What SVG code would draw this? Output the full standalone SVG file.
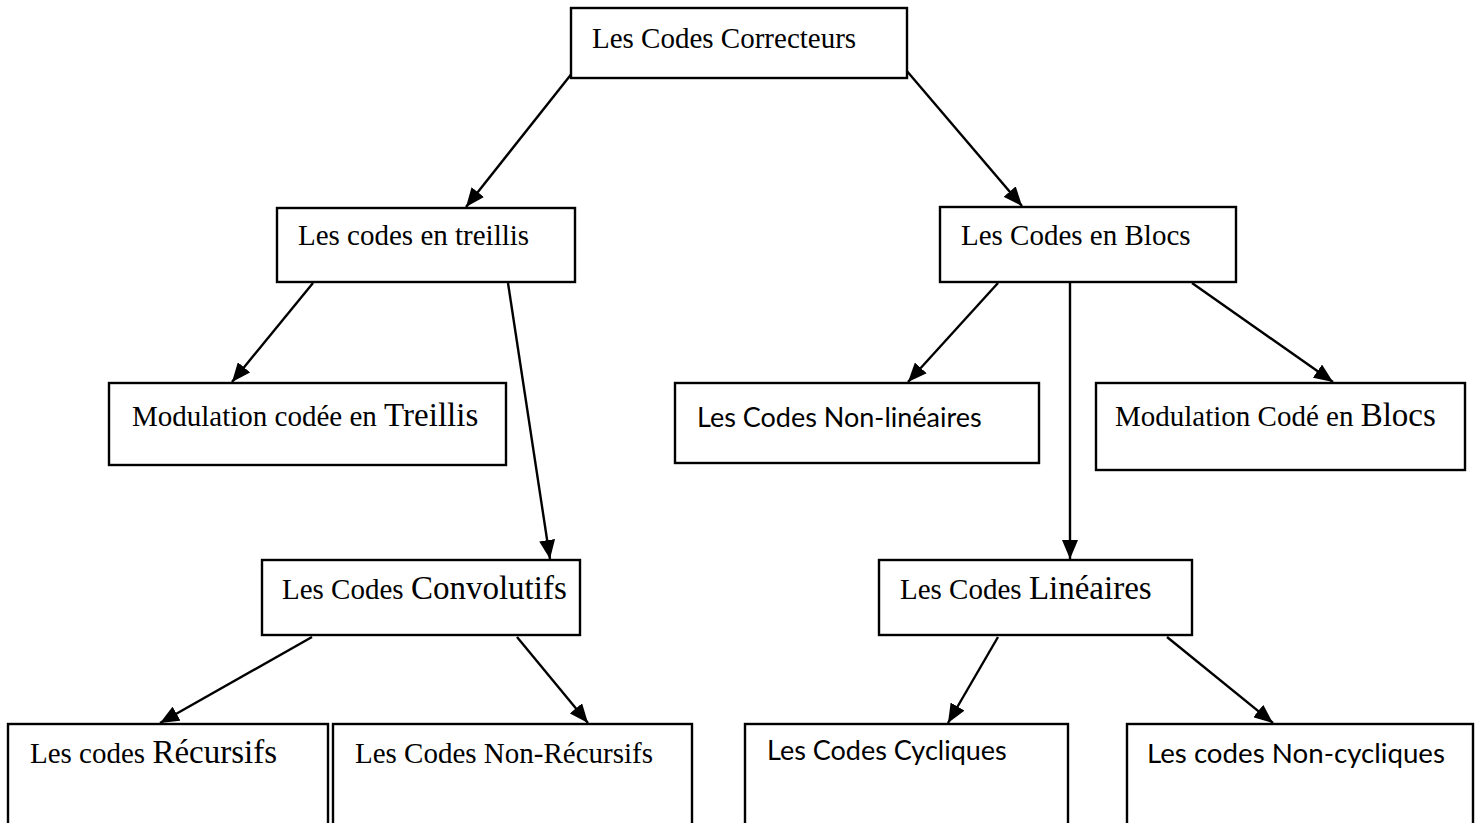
<svg xmlns="http://www.w3.org/2000/svg" width="1476" height="823" viewBox="0 0 1476 823">
  <style>
    .box { fill: #ffffff; stroke: #000000; stroke-width: 2.4; }
    .serif { font-family: "Liberation Serif", "Times New Roman", serif; font-size: 29px; fill: #000000; }
    .sans { font-family: Lato, "Liberation Sans", sans-serif; font-size: 27px; fill: #000000; }
    .big { font-size: 33px; }
    .edge { stroke: #000000; stroke-width: 2.4; fill: none; marker-end: url(#arrow); }
  </style>
  <defs>
    <marker id="arrow" markerUnits="userSpaceOnUse" markerWidth="20" markerHeight="16" refX="19" refY="8" orient="auto">
      <path d="M0,0 L19,8 L0,16 Z" fill="#000000"/>
    </marker>
  </defs>
  <rect width="1476" height="823" fill="#ffffff"/>

  <g id="connectors">
    <line class="edge" x1="573" y1="72" x2="466" y2="207"/>
    <line class="edge" x1="906" y1="70" x2="1022" y2="206"/>
    <line class="edge" x1="313" y1="283" x2="232" y2="382"/>
    <line class="edge" x1="508" y1="283" x2="550" y2="559"/>
    <line class="edge" x1="998" y1="283" x2="908" y2="382"/>
    <line class="edge" x1="1070" y1="283" x2="1070" y2="559"/>
    <line class="edge" x1="1192" y1="283" x2="1333" y2="382"/>
    <line class="edge" x1="312" y1="637" x2="160" y2="723"/>
    <line class="edge" x1="517" y1="637" x2="588" y2="723"/>
    <line class="edge" x1="998" y1="637" x2="948" y2="723"/>
    <line class="edge" x1="1167" y1="637" x2="1273" y2="723"/>
  </g>

  <g id="codes-correcteurs">
    <rect class="box" x="571" y="8" width="336" height="70"/>
    <text class="serif" x="592" y="48">Les Codes Correcteurs</text>
  </g>

  <g id="codes-treillis">
    <rect class="box" x="277" y="208" width="298" height="74"/>
    <text class="serif" x="298" y="245">Les codes en treillis</text>
  </g>

  <g id="codes-blocs">
    <rect class="box" x="940" y="207" width="296" height="75"/>
    <text class="serif" x="961" y="245">Les Codes en Blocs</text>
  </g>

  <g id="modulation-treillis">
    <rect class="box" x="109" y="383" width="397" height="82"/>
    <text class="serif" x="132" y="426">Modulation codée en <tspan class="big">Treillis</tspan></text>
  </g>

  <g id="codes-non-lineaires">
    <rect class="box" x="675" y="383" width="364" height="80"/>
    <text class="sans" x="697" y="427">Les Codes Non-linéaires</text>
  </g>

  <g id="modulation-blocs">
    <rect class="box" x="1096" y="383" width="369" height="87"/>
    <text class="serif" x="1115" y="426">Modulation Codé en <tspan class="big">Blocs</tspan></text>
  </g>

  <g id="codes-convolutifs">
    <rect class="box" x="262" y="560" width="318" height="75"/>
    <text class="serif" x="282" y="599">Les Codes <tspan class="big">Convolutifs</tspan></text>
  </g>

  <g id="codes-lineaires">
    <rect class="box" x="879" y="560" width="313" height="75"/>
    <text class="serif" x="900" y="599">Les Codes <tspan class="big">Linéaires</tspan></text>
  </g>

  <g id="codes-recursifs">
    <rect class="box" x="8" y="724" width="320" height="120"/>
    <text class="serif" x="30" y="763">Les codes <tspan class="big">Récursifs</tspan></text>
  </g>

  <g id="codes-non-recursifs">
    <rect class="box" x="333" y="724" width="359" height="120"/>
    <text class="serif" x="355" y="763">Les Codes Non-Récursifs</text>
  </g>

  <g id="codes-cycliques">
    <rect class="box" x="745" y="724" width="323" height="120"/>
    <text class="sans" x="767" y="760">Les Codes Cycliques</text>
  </g>

  <g id="codes-non-cycliques">
    <rect class="box" x="1127" y="724" width="346" height="120"/>
    <text class="sans" x="1147" y="763" style="font-size:27.7px">Les codes Non-cycliques</text>
  </g>
</svg>
